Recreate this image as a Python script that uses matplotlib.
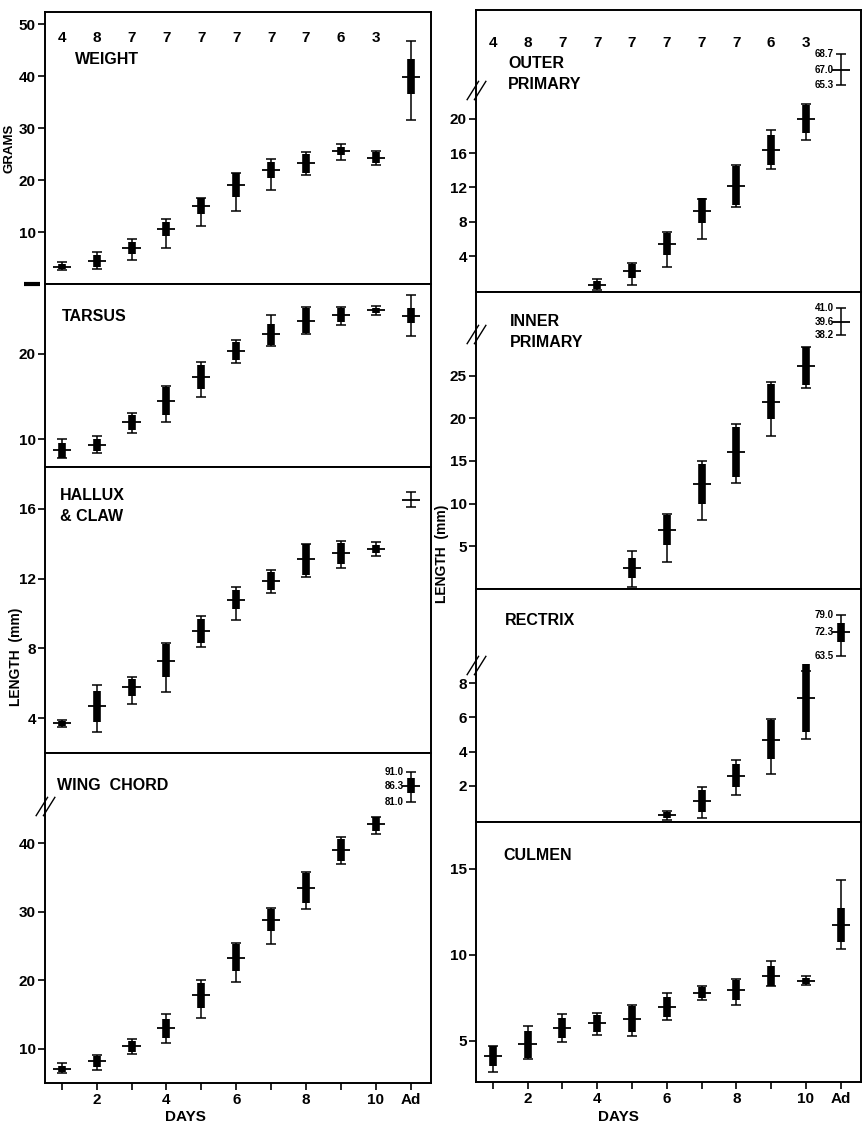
import numpy as np
import matplotlib
matplotlib.use("Agg")
import matplotlib.pyplot as plt
from matplotlib.path import Path
from matplotlib.transforms import blended_transform_factory

nan = np.nan

# Days 1..10 plus the adult column.
days = np.arange(1, 11)
ad_x = 11
counts = [4, 8, 7, 7, 7, 7, 7, 7, 6, 3]
x_ticks = list(range(1, 12))
x_tick_labels = ["", "2", "", "4", "", "6", "", "8", "", "10", "Ad"]

# Each panel: mean, half SD bar, range low, range high (days 1..10).
# Adult values: [mean, sd, low, high].
weight_mean = [3.3, 4.4, 6.9, 10.6, 15.0, 19.0, 21.9, 23.2, 25.6, 24.3]
weight_sd = [0.5, 1.1, 1.2, 1.4, 1.6, 2.3, 1.6, 1.8, 0.8, 1.0]
weight_lo = [2.6, 2.8, 4.7, 7.0, 11.1, 14.1, 18.0, 20.9, 23.9, 22.8]
weight_hi = [4.2, 6.1, 8.7, 12.5, 16.5, 21.4, 24.1, 25.3, 27.0, 25.5]
weight_ad = [39.9, 3.3, 31.6, 46.8]

tarsus_mean = [8.7, 9.3, 12.0, 14.5, 17.3, 20.4, 22.3, 23.9, 24.6, 25.1]
tarsus_sd = [0.85, 0.7, 0.9, 1.6, 1.35, 1.05, 1.25, 1.5, 0.8, 0.3]
tarsus_lo = [7.8, 8.4, 10.7, 12.0, 14.9, 19.0, 20.9, 22.3, 23.4, 24.6]
tarsus_hi = [10.0, 10.4, 13.1, 16.2, 19.1, 21.6, 24.6, 25.5, 25.5, 25.6]
tarsus_ad = [24.5, 0.9, 22.1, 26.9]

hallux_mean = [3.7, 4.67, 5.77, 7.3, 9.0, 10.78, 11.87, 13.1, 13.44, 13.7]
hallux_sd = [0.15, 0.9, 0.48, 0.95, 0.68, 0.55, 0.5, 0.87, 0.62, 0.25]
hallux_lo = [3.5, 3.2, 4.83, 5.5, 8.07, 9.6, 11.16, 12.06, 12.6, 13.3]
hallux_hi = [3.9, 5.9, 6.36, 8.3, 9.85, 11.5, 12.5, 14.0, 14.17, 14.08]
hallux_ad = [16.53, 0.0, 16.09, 16.96]

wing_mean = [7.0, 8.15, 10.4, 13.0, 17.8, 23.3, 28.8, 33.5, 39.0, 42.8]
wing_sd = [0.45, 0.85, 0.8, 1.4, 1.85, 1.95, 1.65, 2.15, 1.6, 1.05]
wing_lo = [6.45, 6.9, 9.3, 10.8, 14.5, 19.7, 25.3, 30.4, 37.0, 41.4]
wing_hi = [7.9, 9.1, 11.4, 15.05, 20.1, 25.5, 30.6, 35.9, 41.0, 43.9]
wing_ad = [86.3, 2.4, 81.0, 91.0]

outer_mean = [nan, nan, nan, 0.6, 2.25, 5.4, 9.3, 12.2, 16.4, 20.0]
outer_sd = [nan, nan, nan, 0.5, 0.8, 1.3, 1.45, 2.3, 1.75, 1.65]
outer_lo = [nan, nan, nan, 0.0, 0.6, 2.75, 5.95, 9.7, 14.2, 17.5]
outer_hi = [nan, nan, nan, 1.3, 3.15, 6.76, 10.6, 14.6, 18.7, 21.7]
outer_ad = [67.0, 0.0, 65.3, 68.7]

inner_mean = [nan, nan, nan, nan, 2.47, 6.87, 12.33, 16.03, 21.96, 26.1]
inner_sd = [nan, nan, nan, nan, 1.2, 1.75, 2.35, 2.9, 2.05, 2.2]
inner_lo = [nan, nan, nan, nan, 0.24, 3.17, 8.04, 12.4, 17.9, 23.6]
inner_hi = [nan, nan, nan, nan, 4.45, 8.74, 14.98, 19.35, 24.2, 28.3]
inner_ad = [39.6, 0.0, 38.2, 41.0]

rectrix_mean = [nan, nan, nan, nan, nan, 0.3, 1.12, 2.58, 4.7, 7.13]
rectrix_sd = [nan, nan, nan, nan, nan, 0.17, 0.63, 0.68, 1.13, 2.0]
rectrix_lo = [nan, nan, nan, nan, nan, 0.01, 0.1, 1.47, 2.68, 4.73]
rectrix_hi = [nan, nan, nan, nan, nan, 0.54, 1.92, 3.48, 5.9, 8.72]
rectrix_ad = [72.3, 3.5, 63.5, 79.0]

culmen_mean = [4.13, 4.79, 5.75, 6.0, 6.26, 6.97, 7.79, 7.94, 8.75, 8.48]
culmen_sd = [0.57, 0.78, 0.58, 0.48, 0.77, 0.58, 0.31, 0.58, 0.58, 0.19]
culmen_lo = [3.2, 3.92, 4.94, 5.33, 5.27, 6.2, 7.36, 7.07, 8.19, 8.23]
culmen_hi = [4.71, 5.87, 6.53, 6.62, 7.1, 7.75, 8.17, 8.58, 9.62, 8.75]
culmen_ad = [11.71, 0.97, 10.3, 14.32]

plt.rcParams["font.family"] = ["Liberation Sans", "DejaVu Sans"]
plt.rcParams["font.weight"] = "bold"

# Break mark: two short parallel slashes across the left spine.
break_path = Path([(-0.8, -0.8), (0.2, 0.8), (-0.2, -0.8), (0.8, 0.8)],
                  [Path.MOVETO, Path.LINETO, Path.MOVETO, Path.LINETO])


def draw_points(ax, x, mean, sd, lo, hi):
    x = np.asarray(x, float)
    mean = np.asarray(mean, float)
    sd = np.asarray(sd, float)
    lo = np.asarray(lo, float)
    hi = np.asarray(hi, float)
    ok = ~np.isnan(mean)
    ax.errorbar(x[ok], mean[ok], yerr=[mean[ok] - lo[ok], hi[ok] - mean[ok]],
                fmt="none", ecolor="black", elinewidth=1.1, capsize=3.5,
                capthick=1.1, clip_on=False)
    bar = ok & (np.nan_to_num(sd) > 0)
    ax.vlines(x[bar], mean[bar] - sd[bar], mean[bar] + sd[bar],
              color="black", lw=5.5, clip_on=False)
    ax.hlines(mean[ok], x[ok] - 0.26, x[ok] + 0.26, color="black", lw=1.3,
              clip_on=False)


def draw_panel(ax, mean, sd, lo, hi, ad, ylim, yticks, brk=None):
    draw_points(ax, days, mean, sd, lo, hi)
    if brk is None:
        draw_points(ax, [ad_x], [ad[0]], [ad[1]], [ad[2]], [ad[3]])
    else:
        # adult value sits above the break on its own scale
        v0, y0, k, ybreak = brk
        m = lambda v: y0 + (v - v0) * k
        draw_points(ax, [ad_x], [m(ad[0])], [ad[1] * k], [m(ad[2])], [m(ad[3])])
        for v in (ad[3], ad[0], ad[2]):
            ax.text(ad_x - 0.2, m(v), "%.1f" % v, ha="right", va="center",
                    fontsize=7)
        tr = blended_transform_factory(ax.transAxes, ax.transData)
        ax.plot([0], [ybreak], transform=tr, marker=break_path, ms=14,
                mec="black", mew=1.0, ls="none", clip_on=False)
    ax.set_xlim(0.52, 11.58)
    ax.set_ylim(*ylim)
    ax.set_yticks(yticks)
    ax.tick_params(axis="y", direction="out", length=5, width=1.2, pad=1.5,
                   labelsize=11)
    ax.set_xticks([])
    for s in ax.spines.values():
        s.set_linewidth(1.4)


def bottom_axis(ax):
    ax.set_xticks(x_ticks)
    ax.set_xticklabels(x_tick_labels)
    ax.tick_params(axis="x", direction="out", length=5, width=1.2, pad=2.5,
                   labelsize=11)


fig = plt.figure(figsize=(8.68, 11.27), dpi=100)

# Left column
ax_w = fig.add_axes([0.0518, 0.748, 0.4447, 0.2413])
draw_panel(ax_w, weight_mean, weight_sd, weight_lo, weight_hi, weight_ad,
           (0, 52.3), [10, 20, 30, 40, 50])
tr = blended_transform_factory(ax_w.transAxes, ax_w.transData)
ax_w.plot([-0.055, -0.012], [0, 0], transform=tr, color="black", lw=3,
          clip_on=False, solid_capstyle="butt")
ax_w.text(0.078, 0.824, "WEIGHT", transform=ax_w.transAxes, fontsize=11.5,
          va="center")

ax_t = fig.add_axes([0.0518, 0.5856, 0.4447, 0.1624])
draw_panel(ax_t, tarsus_mean, tarsus_sd, tarsus_lo, tarsus_hi, tarsus_ad,
           (6.75, 28.2), [10, 20])
ax_t.text(0.044, 0.825, "TARSUS", transform=ax_t.transAxes, fontsize=11.5,
          va="center")

ax_h = fig.add_axes([0.0518, 0.3319, 0.4447, 0.2538])
draw_panel(ax_h, hallux_mean, hallux_sd, hallux_lo, hallux_hi, hallux_ad,
           (2.0, 18.4), [4, 8, 12, 16])
ax_h.text(0.039, 0.925, "HALLUX\n& CLAW", transform=ax_h.transAxes,
          fontsize=11.5, va="top", linespacing=1.45)

ax_wc = fig.add_axes([0.0518, 0.0390, 0.4447, 0.2928])
draw_panel(ax_wc, wing_mean, wing_sd, wing_lo, wing_hi, wing_ad,
           (5.0, 53.2), [10, 20, 30, 40], brk=(81.0, 46.1, 0.44, 45.5))
ax_wc.text(0.031, 0.903, "WING  CHORD", transform=ax_wc.transAxes,
           fontsize=11.5, va="center")
bottom_axis(ax_wc)

# Right column
ax_o = fig.add_axes([0.5484, 0.7409, 0.4435, 0.2502])
draw_panel(ax_o, outer_mean, outer_sd, outer_lo, outer_hi, outer_ad,
           (-0.2, 32.7), [4, 8, 12, 16, 20], brk=(65.3, 23.9, 1.07, 23.4))
ax_o.text(0.083, 0.772, "OUTER\nPRIMARY", transform=ax_o.transAxes,
          fontsize=11.5, va="center", linespacing=1.5)

ax_i = fig.add_axes([0.5484, 0.4774, 0.4435, 0.2635])
draw_panel(ax_i, inner_mean, inner_sd, inner_lo, inner_hi, inner_ad,
           (0, 34.8), [5, 10, 15, 20, 25], brk=(38.2, 29.8, 1.1, 29.9))
ax_i.text(0.088, 0.865, "INNER\nPRIMARY", transform=ax_i.transAxes,
          fontsize=11.5, va="center", linespacing=1.5)

ax_r = fig.add_axes([0.5484, 0.2706, 0.4435, 0.2067])
draw_panel(ax_r, rectrix_mean, rectrix_sd, rectrix_lo, rectrix_hi, rectrix_ad,
           (-0.12, 13.5), [2, 4, 6, 8], brk=(63.5, 9.6, 0.155, 9.07))
ax_r.text(0.075, 0.867, "RECTRIX", transform=ax_r.transAxes, fontsize=11.5,
          va="center")

ax_c = fig.add_axes([0.5484, 0.0399, 0.4435, 0.2307])
draw_panel(ax_c, culmen_mean, culmen_sd, culmen_lo, culmen_hi, culmen_ad,
           (2.6, 17.7), [5, 10, 15])
ax_c.text(0.07, 0.873, "CULMEN", transform=ax_c.transAxes, fontsize=11.5,
          va="center")
bottom_axis(ax_c)

# Sample sizes along the top of both columns
for ax, yy in ((ax_w, 0.904), (ax_o, 0.883)):
    tr = blended_transform_factory(ax.transData, ax.transAxes)
    for d, n in zip(days, counts):
        ax.text(d, yy, str(n), transform=tr, ha="center", va="center",
                fontsize=11)

# Axis titles
fig.text(0.0104, 0.8687, "GRAMS", rotation=90, ha="center", va="center",
         fontsize=9.5)
fig.text(0.0184, 0.417, "LENGTH  (mm)", rotation=90, ha="center",
         va="center", fontsize=10)
fig.text(0.509, 0.509, "LENGTH  (mm)", rotation=90, ha="center",
         va="center", fontsize=10)
fig.text(0.214, 0.0085, "DAYS", ha="center", va="center", fontsize=11)
fig.text(0.713, 0.0085, "DAYS", ha="center", va="center", fontsize=11)

fig.savefig("out.png", dpi=100)
